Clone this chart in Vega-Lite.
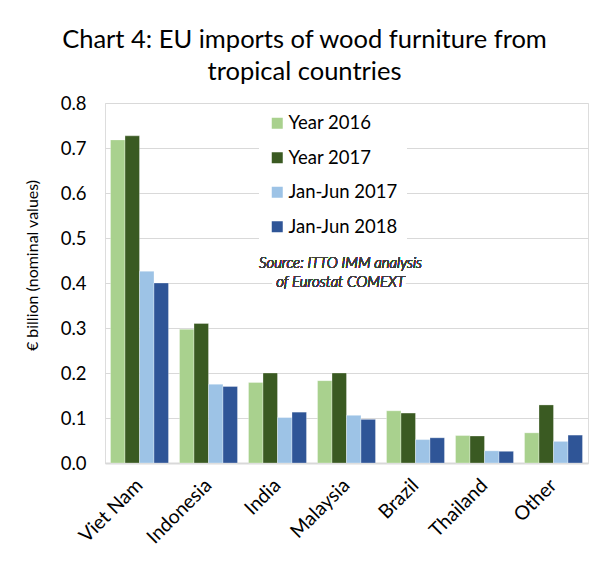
{
  "$schema": "https://vega.github.io/schema/vega-lite/v6.json",
  "width": 483,
  "height": 360,
  "autosize": {"type": "none"},
  "padding": {"left": 105, "top": 103, "right": 15, "bottom": 99},
  "background": "white",
  "title": {
    "text": ["Chart 4: EU imports of wood furniture from", "tropical countries"],
    "font": "Lato",
    "fontSize": 25.5,
    "fontWeight": "normal",
    "color": "#000000",
    "anchor": "middle",
    "frame": "group",
    "dx": -42,
    "offset": 9,
    "lineHeight": 32
  },
  "data": {
    "values": [
      {"country": "Viet Nam", "series": "Year 2016", "value": 0.718},
      {"country": "Viet Nam", "series": "Year 2017", "value": 0.727},
      {"country": "Viet Nam", "series": "Jan-Jun 2017", "value": 0.426},
      {"country": "Viet Nam", "series": "Jan-Jun 2018", "value": 0.400},
      {"country": "Indonesia", "series": "Year 2016", "value": 0.297},
      {"country": "Indonesia", "series": "Year 2017", "value": 0.310},
      {"country": "Indonesia", "series": "Jan-Jun 2017", "value": 0.175},
      {"country": "Indonesia", "series": "Jan-Jun 2018", "value": 0.170},
      {"country": "India", "series": "Year 2016", "value": 0.179},
      {"country": "India", "series": "Year 2017", "value": 0.200},
      {"country": "India", "series": "Jan-Jun 2017", "value": 0.101},
      {"country": "India", "series": "Jan-Jun 2018", "value": 0.113},
      {"country": "Malaysia", "series": "Year 2016", "value": 0.183},
      {"country": "Malaysia", "series": "Year 2017", "value": 0.200},
      {"country": "Malaysia", "series": "Jan-Jun 2017", "value": 0.106},
      {"country": "Malaysia", "series": "Jan-Jun 2018", "value": 0.097},
      {"country": "Brazil", "series": "Year 2016", "value": 0.116},
      {"country": "Brazil", "series": "Year 2017", "value": 0.111},
      {"country": "Brazil", "series": "Jan-Jun 2017", "value": 0.052},
      {"country": "Brazil", "series": "Jan-Jun 2018", "value": 0.056},
      {"country": "Thailand", "series": "Year 2016", "value": 0.061},
      {"country": "Thailand", "series": "Year 2017", "value": 0.060},
      {"country": "Thailand", "series": "Jan-Jun 2017", "value": 0.027},
      {"country": "Thailand", "series": "Jan-Jun 2018", "value": 0.026},
      {"country": "Other", "series": "Year 2016", "value": 0.067},
      {"country": "Other", "series": "Year 2017", "value": 0.129},
      {"country": "Other", "series": "Jan-Jun 2017", "value": 0.048},
      {"country": "Other", "series": "Jan-Jun 2018", "value": 0.062}
    ]
  },
  "layer": [
    {
      "mark": {"type": "bar", "stroke": "white", "strokeWidth": 0.5, "strokeOpacity": 0.6},
      "encoding": {
        "x": {
          "field": "country",
          "type": "nominal",
          "sort": ["Viet Nam", "Indonesia", "India", "Malaysia", "Brazil", "Thailand", "Other"],
          "scale": {"paddingInner": 0.16, "paddingOuter": 0.08},
          "axis": {
            "title": null,
            "labelAngle": -45,
            "labelAlign": "right",
            "labelBaseline": "middle",
            "labelFont": "Lato",
            "labelFontSize": 19.5,
            "labelColor": "#000000",
            "labelPadding": 19,
            "ticks": false,
            "domainColor": "#d9d9d9",
            "domainWidth": 2
          }
        },
        "xOffset": {
          "field": "series",
          "type": "nominal",
          "sort": ["Year 2016", "Year 2017", "Jan-Jun 2017", "Jan-Jun 2018"],
          "scale": {"paddingInner": 0, "paddingOuter": 0}
        },
        "y": {
          "field": "value",
          "type": "quantitative",
          "scale": {"domain": [0, 0.8]},
          "axis": {
            "title": "€ billion (nominal values)",
            "titleFont": "Lato",
            "titleFontSize": 16,
            "titleFontWeight": "normal",
            "titleColor": "#000000",
            "titlePadding": 20,
            "titleY": 162,
            "format": ".1f",
            "values": [0, 0.1, 0.2, 0.3, 0.4, 0.5, 0.6, 0.7, 0.8],
            "labelFont": "Lato",
            "labelFontSize": 18.5,
            "labelColor": "#000000",
            "labelPadding": 19,
            "ticks": false,
            "domain": false,
            "gridColor": "#d9d9d9",
            "gridWidth": 1.2
          }
        },
        "color": {
          "field": "series",
          "type": "nominal",
          "sort": ["Year 2016", "Year 2017", "Jan-Jun 2017", "Jan-Jun 2018"],
          "scale": {
            "domain": ["Year 2016", "Year 2017", "Jan-Jun 2017", "Jan-Jun 2018"],
            "range": ["#a9d18e", "#3a5a22", "#9dc3e6", "#2f5597"]
          },
          "legend": {
            "title": null,
            "orient": "none",
            "legendX": 154,
            "legendY": 2,
            "fillColor": "white",
            "padding": 9,
            "symbolType": "square",
            "symbolSize": 121,
            "symbolStrokeWidth": 0,
            "labelFont": "Lato",
            "labelFontSize": 18.5,
            "labelColor": "#000000",
            "labelOffset": 2,
            "rowPadding": 15.5
          }
        }
      }
    },
    {
      "mark": {
        "type": "text",
        "font": "Lato",
        "fontSize": 15,
        "fontStyle": "italic",
        "fontWeight": 300,
        "stroke": "white",
        "strokeWidth": 8,
        "strokeJoin": "round",
        "fill": "white",
        "align": "center",
        "baseline": "middle",
        "lineHeight": 19,
        "dx": -6
      },
      "encoding": {
        "x": {"datum": "Malaysia"},
        "y": {"datum": 0.444},
        "text": {"value": ["Source: ITTO IMM analysis", "of Eurostat COMEXT"]}
      }
    },
    {
      "mark": {
        "type": "text",
        "font": "Lato",
        "fontSize": 15,
        "fontStyle": "italic",
        "fontWeight": 300,
        "fill": "#404040",
        "align": "center",
        "baseline": "middle",
        "lineHeight": 19,
        "dx": -6
      },
      "encoding": {
        "x": {"datum": "Malaysia"},
        "y": {"datum": 0.444},
        "text": {"value": ["Source: ITTO IMM analysis", "of Eurostat COMEXT"]}
      }
    }
  ]
}
